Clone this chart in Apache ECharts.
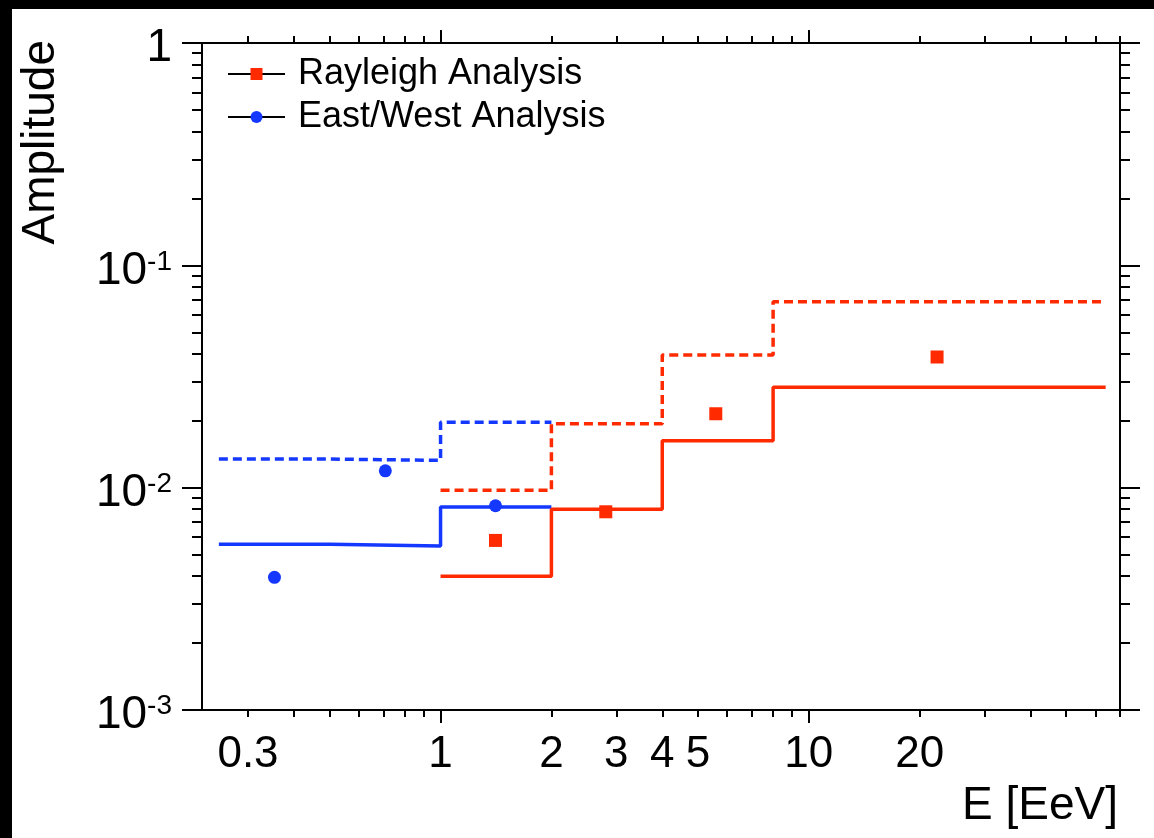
<!DOCTYPE html>
<html><head><meta charset="utf-8">
<script src="https://cdn.jsdelivr.net/npm/echarts@6/dist/echarts.min.js"></script>
<style>
html,body{margin:0;padding:0;background:#000;width:1154px;height:838px;overflow:hidden}
#c{position:absolute;left:12px;top:9px;width:1142px;height:829px;background:#fff}
</style>
</head><body><div id="c"></div>
<script>
// ---- tick / label values ----
const xTickLabels = [0.3, 1, 2, 3, 4, 5, 10, 20];
const xMajorTicks = [1, 10];
const xMinorTicks = [0.3, 0.4, 0.5, 0.6, 0.7, 0.8, 0.9, 2, 3, 4, 5, 6, 7, 8, 9, 20, 30, 40, 50, 60, 70];
const yMajorTicks = [0.001, 0.01, 0.1, 1];
const yMinorTicks = [0.002, 0.003, 0.004, 0.005, 0.006, 0.007, 0.008, 0.009,
                     0.02, 0.03, 0.04, 0.05, 0.06, 0.07, 0.08, 0.09,
                     0.2, 0.3, 0.4, 0.5, 0.6, 0.7, 0.8, 0.9];

// ---- data ----
const eastWestBinEdges = [0.25, 0.5, 1, 2];
const eastWestSolid = [0.00557, 0.00546, 0.00818];
const eastWestDashed = [0.01345, 0.01327, 0.0197];
const eastWestE = [0.354, 0.708, 1.41];
const eastWestAmp = [0.00395, 0.0119, 0.00829];

const rayleighBinEdges = [1, 2, 4, 8, 64];
const rayleighSolid = [0.0040, 0.0080, 0.01625, 0.0283];
const rayleighDashed = [0.00973, 0.0194, 0.0395, 0.0686];
const rayleighE = [1.41, 2.81, 5.59, 22.3];
const rayleighAmp = [0.00579, 0.00779, 0.0215, 0.0387];

const RED = '#ff2a00', BLUE = '#1438ff';
const FONT = '"Liberation Sans", Arial, Helvetica, sans-serif';
const X_MIN = 0.225, X_MAX = 70, Y_MIN = 0.001, Y_MAX = 1;
const LW = 3.5;

function steps(edges, vals) {
  const pts = [];
  for (let i = 0; i < vals.length; i++) {
    pts.push([edges[i], vals[i]]);
    pts.push([edges[i + 1], vals[i]]);
  }
  return pts;
}
function pairs(xs, ys) { return xs.map((x, i) => [x, ys[i]]); }

function xAx(pos, ticks, len, extra) {
  return Object.assign({
    type: 'log', position: pos, min: X_MIN, max: X_MAX, logBase: 10,
    axisLine: {show: false, onZero: false}, splitLine: {show: false}, minorTick: {show: false},
    axisLabel: {show: false},
    axisTick: {show: true, inside: false, length: len, customValues: ticks, lineStyle: {color: '#000', width: 2}}
  }, extra || {});
}
function yAx(pos, ticks, len, extra) {
  return Object.assign({
    type: 'log', position: pos, min: Y_MIN, max: Y_MAX, logBase: 10,
    axisLine: {show: false, onZero: false}, splitLine: {show: false}, minorTick: {show: false},
    axisLabel: {show: false},
    axisTick: {show: true, inside: false, length: len, customValues: ticks, lineStyle: {color: '#000', width: 2}}
  }, extra || {});
}

const chart = echarts.init(document.getElementById('c'), null, {renderer: 'canvas'});
chart.setOption({
  animation: false,
  backgroundColor: '#fff',
  textStyle: {fontFamily: FONT},
  grid: {left: 190, right: 34, top: 34, bottom: 128, containLabel: false, outerBoundsMode: 'none'},
  legend: {
    orient: 'vertical', left: 215, top: 47, padding: 0, itemWidth: 57, itemHeight: 15, itemGap: 7,
    selectedMode: false,
    data: ['Rayleigh Analysis', 'East/West Analysis'],
    textStyle: {fontSize: 36, fontFamily: FONT, color: '#000', padding: [0, 0, 0, 8]},
    lineStyle: {color: '#000', width: 2, opacity: 1, type: 'solid'}
  },
  xAxis: [
    xAx('bottom', xMinorTicks, 7, {
      axisLine: {show: true, onZero: false, lineStyle: {color: '#000', width: 2}},
      axisLabel: {show: true, customValues: xTickLabels, margin: 23, fontSize: 44, color: '#000', fontFamily: FONT,
                  formatter: v => String(v)},
      name: 'E [EeV]', nameLocation: 'end', nameGap: -2, nameMoveOverlap: false,
      nameTextStyle: {fontSize: 46, color: '#000', fontFamily: FONT, align: 'right', verticalAlign: 'top', padding: [73, 0, 0, 0]}
    }),
    xAx('bottom', xMajorTicks, 13),
    xAx('top', xMinorTicks, 7, {axisLine: {show: true, onZero: false, lineStyle: {color: '#000', width: 2}}}),
    xAx('top', xMajorTicks, 13)
  ],
  yAxis: [
    yAx('left', yMinorTicks, 10, {
      axisLine: {show: true, onZero: false, lineStyle: {color: '#000', width: 2}},
      axisLabel: {show: true, customValues: yMajorTicks, margin: 30, color: '#000', fontFamily: FONT,
        formatter: v => { const k = Math.round(Math.log10(v)); return k === 0 ? '{b|1}' : '{b|10}{s|' + k + '}'; },
        rich: {
          b: {fontSize: 46, fontFamily: FONT, color: '#000', padding: [11, 0, 0, 0]},
          s: {fontSize: 28, fontFamily: FONT, color: '#000', verticalAlign: 'top', padding: [11, 0, 0, 0]}
        }},
      name: 'Amplitude', nameLocation: 'end', nameRotate: 90, nameGap: 3, nameMoveOverlap: false,
      nameTextStyle: {fontSize: 46, color: '#000', fontFamily: FONT, align: 'right', verticalAlign: 'bottom', padding: [0, 0, 138, 0]}
    }),
    yAx('left', yMajorTicks, 20),
    yAx('right', yMinorTicks, 10, {axisLine: {show: true, onZero: false, lineStyle: {color: '#000', width: 2}}}),
    yAx('right', yMajorTicks, 20)
  ],
  series: [
    {name: 'East/West solid', type: 'line', xAxisIndex: 0, yAxisIndex: 0, symbol: 'none',
     data: steps(eastWestBinEdges, eastWestSolid), lineStyle: {color: BLUE, width: LW}, z: 2},
    {name: 'East/West dashed', type: 'line', xAxisIndex: 0, yAxisIndex: 0, symbol: 'none',
     data: steps(eastWestBinEdges, eastWestDashed), lineStyle: {color: BLUE, width: LW, type: [9, 5]}, z: 2},
    {name: 'Rayleigh solid', type: 'line', xAxisIndex: 0, yAxisIndex: 0, symbol: 'none',
     data: steps(rayleighBinEdges, rayleighSolid), lineStyle: {color: RED, width: LW}, z: 2},
    {name: 'Rayleigh dashed', type: 'line', xAxisIndex: 0, yAxisIndex: 0, symbol: 'none',
     data: steps(rayleighBinEdges, rayleighDashed), lineStyle: {color: RED, width: LW, type: [9, 5]}, z: 2},
    {name: 'Rayleigh Analysis', type: 'line', xAxisIndex: 0, yAxisIndex: 0, symbol: 'rect', symbolSize: 13,
     showSymbol: true, data: pairs(rayleighE, rayleighAmp), lineStyle: {opacity: 0},
     itemStyle: {color: RED, borderWidth: 0}, z: 5},
    {name: 'East/West Analysis', type: 'line', xAxisIndex: 0, yAxisIndex: 0, symbol: 'circle', symbolSize: 13,
     showSymbol: true, data: pairs(eastWestE, eastWestAmp), lineStyle: {opacity: 0},
     itemStyle: {color: BLUE, borderWidth: 0}, z: 5}
  ]
});
</script>
</body></html>
